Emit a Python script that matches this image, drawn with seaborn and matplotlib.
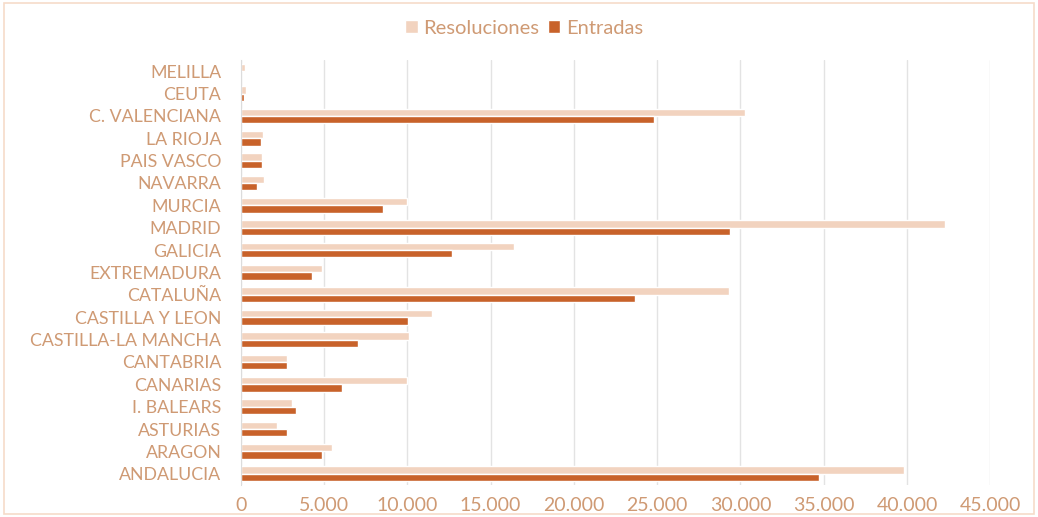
import pandas as pd
import seaborn as sns
import matplotlib.pyplot as plt
from matplotlib.ticker import FuncFormatter, MultipleLocator
from matplotlib.patches import Rectangle

# datos (de abajo a arriba en el grafico original)
regiones = ['ANDALUCIA', 'ARAGON', 'ASTURIAS', 'I. BALEARS', 'CANARIAS', 'CANTABRIA',
            'CASTILLA-LA MANCHA', 'CASTILLA Y LEON', 'CATALUÑA', 'EXTREMADURA', 'GALICIA',
            'MADRID', 'MURCIA', 'NAVARRA', 'PAIS VASCO', 'LA RIOJA', 'C. VALENCIANA',
            'CEUTA', 'MELILLA']
resoluciones = [39800, 5500, 2200, 3100, 10000, 2800, 10100, 11500, 29300, 4900, 16400,
                42300, 10000, 1400, 1300, 1350, 30250, 300, 250]
entradas = [34700, 4900, 2800, 3300, 6100, 2800, 7050, 10050, 23650, 4250, 12700,
            29350, 8550, 950, 1300, 1200, 24800, 180, 40]

df = pd.DataFrame({'region': regiones, 'Resoluciones': resoluciones, 'Entradas': entradas})
df = df.melt(id_vars='region', var_name='serie', value_name='valor')

txt = '#cf9a74'
sns.set_style('white')
plt.rcParams['font.family'] = ['Lato', 'DejaVu Sans']

fig = plt.figure(figsize=(10.38, 5.17), dpi=100)
ax = fig.add_axes([0.232, 0.062, 0.722, 0.822])

sns.barplot(data=df, y='region', x='valor', hue='serie', order=regiones[::-1],
            hue_order=['Resoluciones', 'Entradas'], palette=['#f2d3bf', '#c8622a'],
            orient='h', width=0.66, ax=ax, saturation=1)

ax.set_xlim(0, 45000)
ax.xaxis.set_major_locator(MultipleLocator(5000))
ax.xaxis.set_major_formatter(FuncFormatter(lambda x, p: f'{int(x):,}'.replace(',', '.')))
ax.grid(axis='x', color='#e3e3e3', linewidth=1)
ax.set_axisbelow(True)
for s in ['top', 'right', 'bottom']:
    ax.spines[s].set_visible(False)
ax.spines['left'].set_color('#dcdcdc')
ax.set_xlabel('')
ax.set_ylabel('')
ax.tick_params(axis='y', length=0, colors=txt, labelsize=12.8, pad=14)
ax.tick_params(axis='x', length=0, colors=txt, labelsize=14, pad=9)

ax.legend(ncol=2, frameon=False, fontsize=14.5, labelcolor=txt, handlelength=0.6,
          handleheight=0.6, columnspacing=0.4, handletextpad=0.3,
          loc='upper center', bbox_to_anchor=(0.505, 0.997), bbox_transform=fig.transFigure)

fig.patches.append(Rectangle((0.004, 0.006), 0.992, 0.988, transform=fig.transFigure,
                             fill=False, edgecolor='#f6dcc9', linewidth=1.2))

plt.savefig('out.png', dpi=100)
